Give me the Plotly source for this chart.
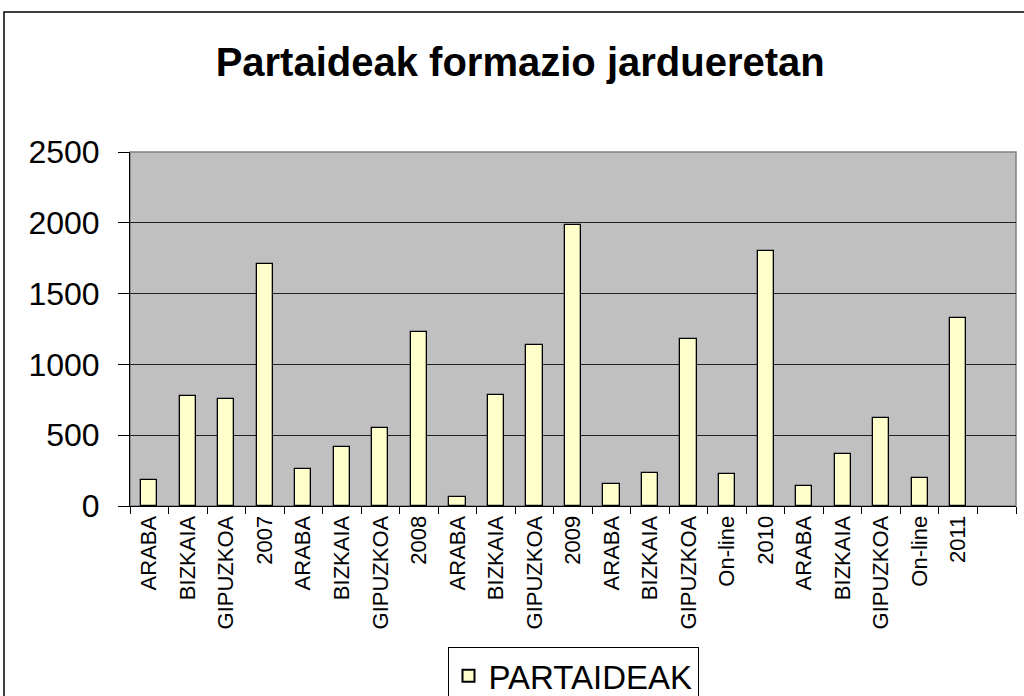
import plotly.graph_objects as go

categories = ["ARABA", "BIZKAIA", "GIPUZKOA", "2007",
              "ARABA", "BIZKAIA", "GIPUZKOA", "2008",
              "ARABA", "BIZKAIA", "GIPUZKOA", "2009",
              "ARABA", "BIZKAIA", "GIPUZKOA", "On-line", "2010",
              "ARABA", "BIZKAIA", "GIPUZKOA", "On-line", "2011"]
partaideak = [183, 774, 755, 1706,
              264, 418, 551, 1228,
              62, 783, 1138, 1982,
              155, 236, 1178, 226, 1798,
              143, 369, 623, 195, 1331]
series_name = "PARTAIDEAK"
title_text = "Partaideak formazio jardueretan"
y_ticks = [0, 500, 1000, 1500, 2000, 2500]

positions = list(range(len(categories)))
n_slots = len(categories) + 1  # Excel leaves one empty slot at the end

FONT = "Liberation Sans, Arial, sans-serif"

fig = go.Figure()
fig.add_trace(go.Bar(
    x=positions, y=partaideak, name=series_name,
    width=0.42,
    marker=dict(color="#FFFFCC", line=dict(color="#000000", width=1.3)),
    showlegend=True,
))

fig.update_layout(
    width=1024, height=696,
    margin=dict(l=130, r=8, t=152, b=190, autoexpand=False),
    paper_bgcolor="#FFFFFF",
    plot_bgcolor="#C0C0C0",
    font=dict(family=FONT, color="#000000"),
    title=dict(text="<b>" + title_text + "</b>", x=0.508, xanchor="center",
               y=1 - 62 / 696, yanchor="middle",
               font=dict(size=40, family=FONT, color="#000000")),
    bargap=0,
    legend=dict(orientation="h", x=0.5, xanchor="center", y=-0.398, yanchor="top",
                bordercolor="#000000", borderwidth=1, bgcolor="#FFFFFF",
                font=dict(size=33, family=FONT), itemsizing="constant"),
    xaxis=dict(
        range=[-0.5, n_slots - 0.5],
        tickmode="array", tickvals=positions, ticktext=categories,
        tickangle=-90, tickfont=dict(size=22, family=FONT),
        ticks="", showgrid=False, zeroline=False,
        showline=True, linecolor="#000000", linewidth=1,
        minor=dict(ticks="outside", tickmode="linear", tick0=-0.5, dtick=1,
                   ticklen=7, tickcolor="#000000", tickwidth=1, showgrid=False),
    ),
    yaxis=dict(
        range=[0, 2500], tickmode="array", tickvals=y_ticks,
        tickfont=dict(size=32, family=FONT),
        ticks="outside", ticklen=11, tickcolor="#000000", tickwidth=1,
        ticklabelstandoff=12,
        showgrid=True, gridcolor="#202020", gridwidth=1,
        zeroline=False, showline=True, linecolor="#000000", linewidth=1,
    ),
    shapes=[
        dict(type="rect", xref="paper", yref="paper", x0=0, x1=1, y0=0, y1=1,
             line=dict(color="#808080", width=1.5), fillcolor="rgba(0,0,0,0)", layer="below"),
        dict(type="rect", xref="paper", yref="paper",
             x0=-126 / 886, x1=1.2, y0=-0.8, y1=(506 - 12) / 354,
             line=dict(color="#000000", width=1.5), fillcolor="rgba(0,0,0,0)", layer="above"),
    ],
)

fig.write_html("out.html",
               config={"displayModeBar": False},
               post_script="document.body.style.margin='0';document.body.style.overflow='hidden';")
